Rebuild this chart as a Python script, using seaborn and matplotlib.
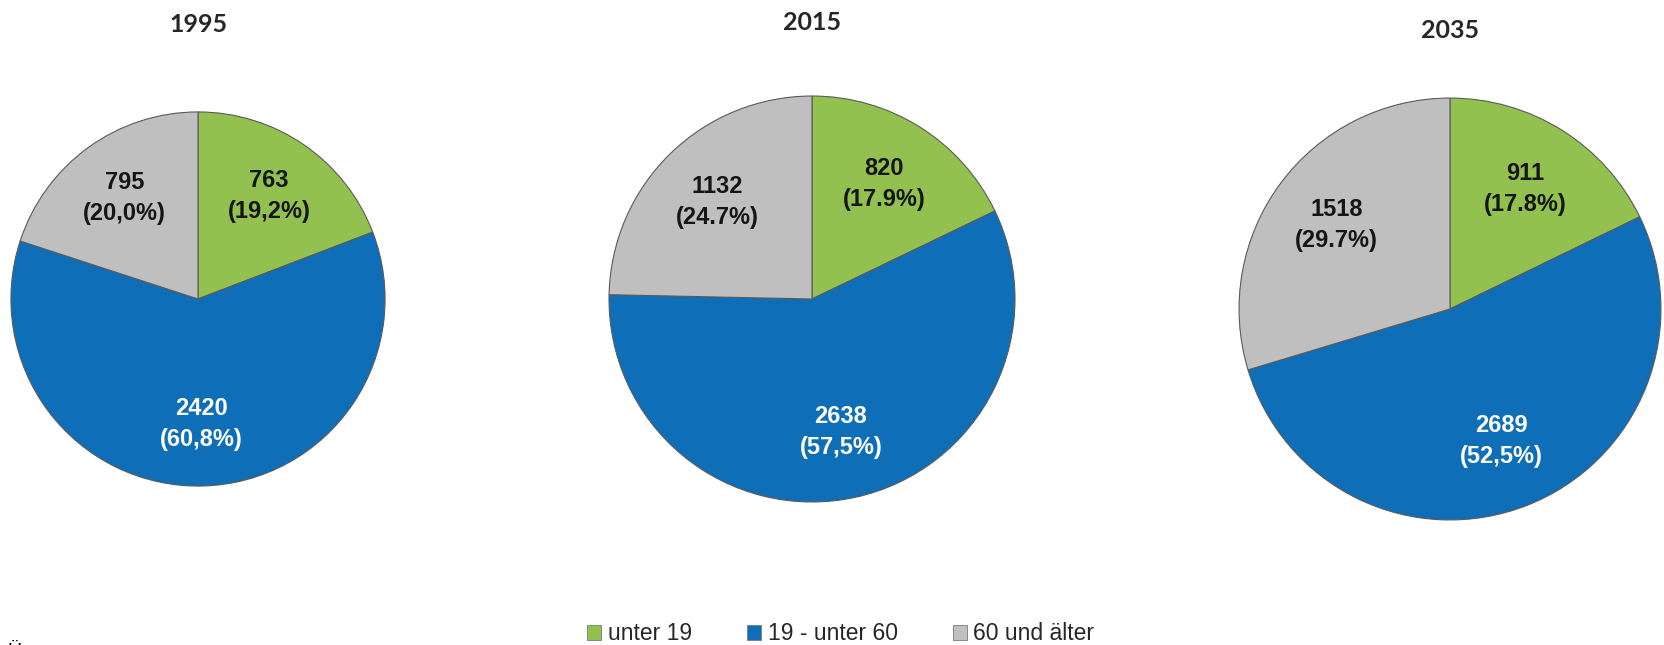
import matplotlib
matplotlib.use("Agg")
import matplotlib.pyplot as plt
from matplotlib.patches import Patch
import seaborn as sns

# data
years = ["1995", "2015", "2035"]
groups = ["unter 19", "19 - unter 60", "60 und älter"]
values_1995 = [763, 2420, 795]
values_2015 = [820, 2638, 1132]
values_2035 = [911, 2689, 1518]
pct_1995 = ["19,2%", "60,8%", "20,0%"]
pct_2015 = ["17.9%", "57,5%", "24.7%"]
pct_2035 = ["17.8%", "52,5%", "29.7%"]

colors = ["#92C150", "#0F6EB8", "#BFBFBF"]
text_colors = ["#151515", "white", "#151515"]

W, H = 1665, 645
# pie centres / radii in pixels (from top-left), title y
layout = [(198, 299, 188, 24), (812, 299, 204, 22), (1450, 309, 212, 31)]

sns.set_theme(style="white")
plt.rcParams["font.family"] = ["Liberation Sans", "DejaVu Sans"]

fig = plt.figure(figsize=(W / 100, H / 100), dpi=100)

series = [(values_1995, pct_1995), (values_2015, pct_2015), (values_2035, pct_2035)]
for year, (vals, pcts), (cx, cy, r, ty) in zip(years, series, layout):
    ax = fig.add_axes([(cx - r) / W, (H - cy - r) / H, 2 * r / W, 2 * r / H])
    labels = [f"{v}\n({p})" for v, p in zip(vals, pcts)]
    wedges, texts = ax.pie(
        vals,
        colors=colors,
        startangle=90,
        counterclock=False,
        labels=labels,
        labeldistance=0.67,
        wedgeprops=dict(edgecolor="#5a5a5a", linewidth=0.8),
    )
    for t, c in zip(texts, text_colors):
        t.set_ha("center")
        t.set_va("center")
        t.set_color(c)
        t.set_fontsize(17)
        t.set_fontweight("bold")
        t.set_linespacing(1.45)
    ax.set_xlim(-1.005, 1.005)
    ax.set_ylim(-1.005, 1.005)
    ax.set_axis_off()
    fig.text(cx / W, 1 - ty / H, year, ha="center", va="center",
             fontsize=18, fontweight="bold", family=["Lato", "DejaVu Sans"])

handles = [Patch(facecolor=c, edgecolor="#7a7a7a", linewidth=0.6) for c in colors]
fig.legend(handles, groups, loc="center", bbox_to_anchor=(841 / W, 1 - 634 / H),
           ncol=3, frameon=False, fontsize=16.5, handlelength=0.6, handleheight=0.6,
           handletextpad=0.3, columnspacing=2.4, borderpad=0)

# clipped glyph at the bottom-left edge
fig.text(8 / W, 2 / H, "Ü", ha="left", va="top", fontsize=14, color="black")

fig.savefig("out.png", dpi=100)
